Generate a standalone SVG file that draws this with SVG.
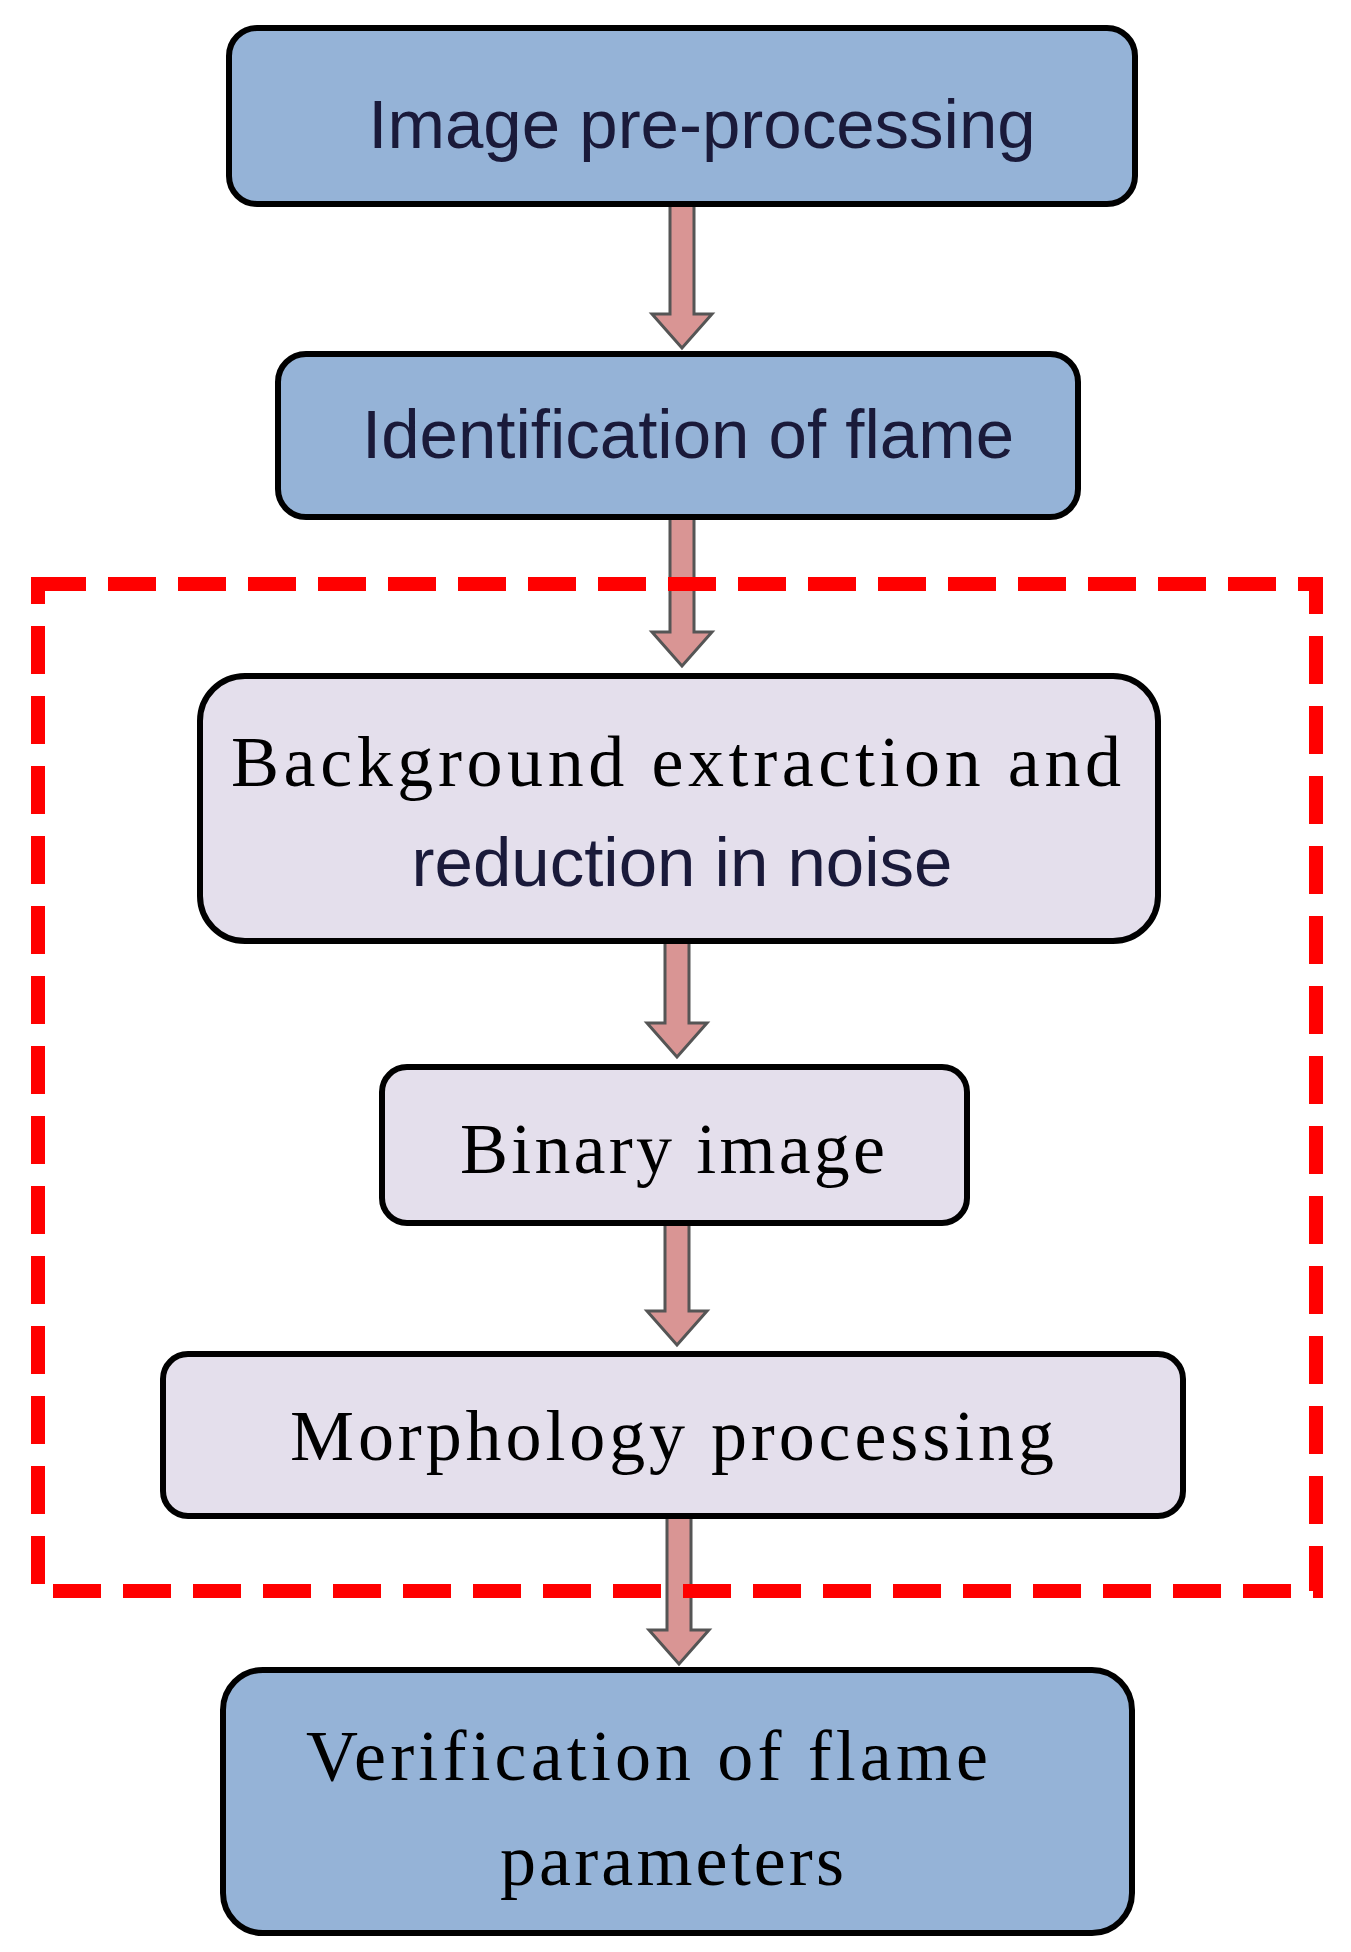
<svg xmlns="http://www.w3.org/2000/svg" width="1351" height="1952" viewBox="0 0 1351 1952">
<style>
.b{fill:#95b3d7;stroke:#000;stroke-width:6}
.l{fill:#e4dfec;stroke:#000;stroke-width:6}
.s{font-family:"Liberation Sans",Arial,sans-serif;font-size:69px;fill:#1a1a3a}
.r{font-family:"Liberation Serif","Times New Roman",serif;font-size:72px;fill:#000}
.a{fill:#d99594;stroke:#555;stroke-width:3}
</style>
<rect width="1351" height="1952" fill="#fff"/>
<g id="connectors">
<path class="a" d="M670 204h24v110h18l-30 34l-30-34h18z"/>
<path class="a" d="M670 517h24v115h18l-30 34l-30-34h18z"/>
<path class="a" d="M665 941h24v82h18l-30 34l-30-34h18z"/>
<path class="a" d="M665 1223h24v88h18l-30 34l-30-34h18z"/>
<path class="a" d="M667 1516h24v114h18l-30 34l-30-34h18z"/>
</g>
<rect id="region" x="38" y="584" width="1278" height="1007" fill="none" stroke="#f00" stroke-width="14" stroke-dasharray="48,22"/>
<g id="n1"><rect class="b" x="229" y="28" width="906" height="176" rx="28"/><text class="s" x="702" y="148" text-anchor="middle">Image pre-processing</text></g>
<g id="n2"><rect class="b" x="278" y="354" width="800" height="163" rx="28"/><text class="s" x="688" y="458" text-anchor="middle">Identification of flame</text></g>
<g id="n3"><rect class="l" x="200" y="676" width="958" height="265" rx="45"/><text class="r" x="231" y="786" textLength="890" lengthAdjust="spacing">Background extraction and</text><text class="s" x="682" y="886" text-anchor="middle">reduction in noise</text></g>
<g id="n4"><rect class="l" x="382" y="1067" width="585" height="156" rx="25"/><text class="r" x="460" y="1173" textLength="425" lengthAdjust="spacing">Binary  image</text></g>
<g id="n5"><rect class="l" x="163" y="1354" width="1020" height="162" rx="25"/><text class="r" x="290" y="1460" textLength="764" lengthAdjust="spacing">Morphology  processing</text></g>
<g id="n6"><rect class="b" x="223" y="1670" width="909" height="263" rx="40"/><text class="r" x="306" y="1780" textLength="682" lengthAdjust="spacing">Verification  of flame</text><text class="r" x="500" y="1885" textLength="344" lengthAdjust="spacing">parameters</text></g>
</svg>
